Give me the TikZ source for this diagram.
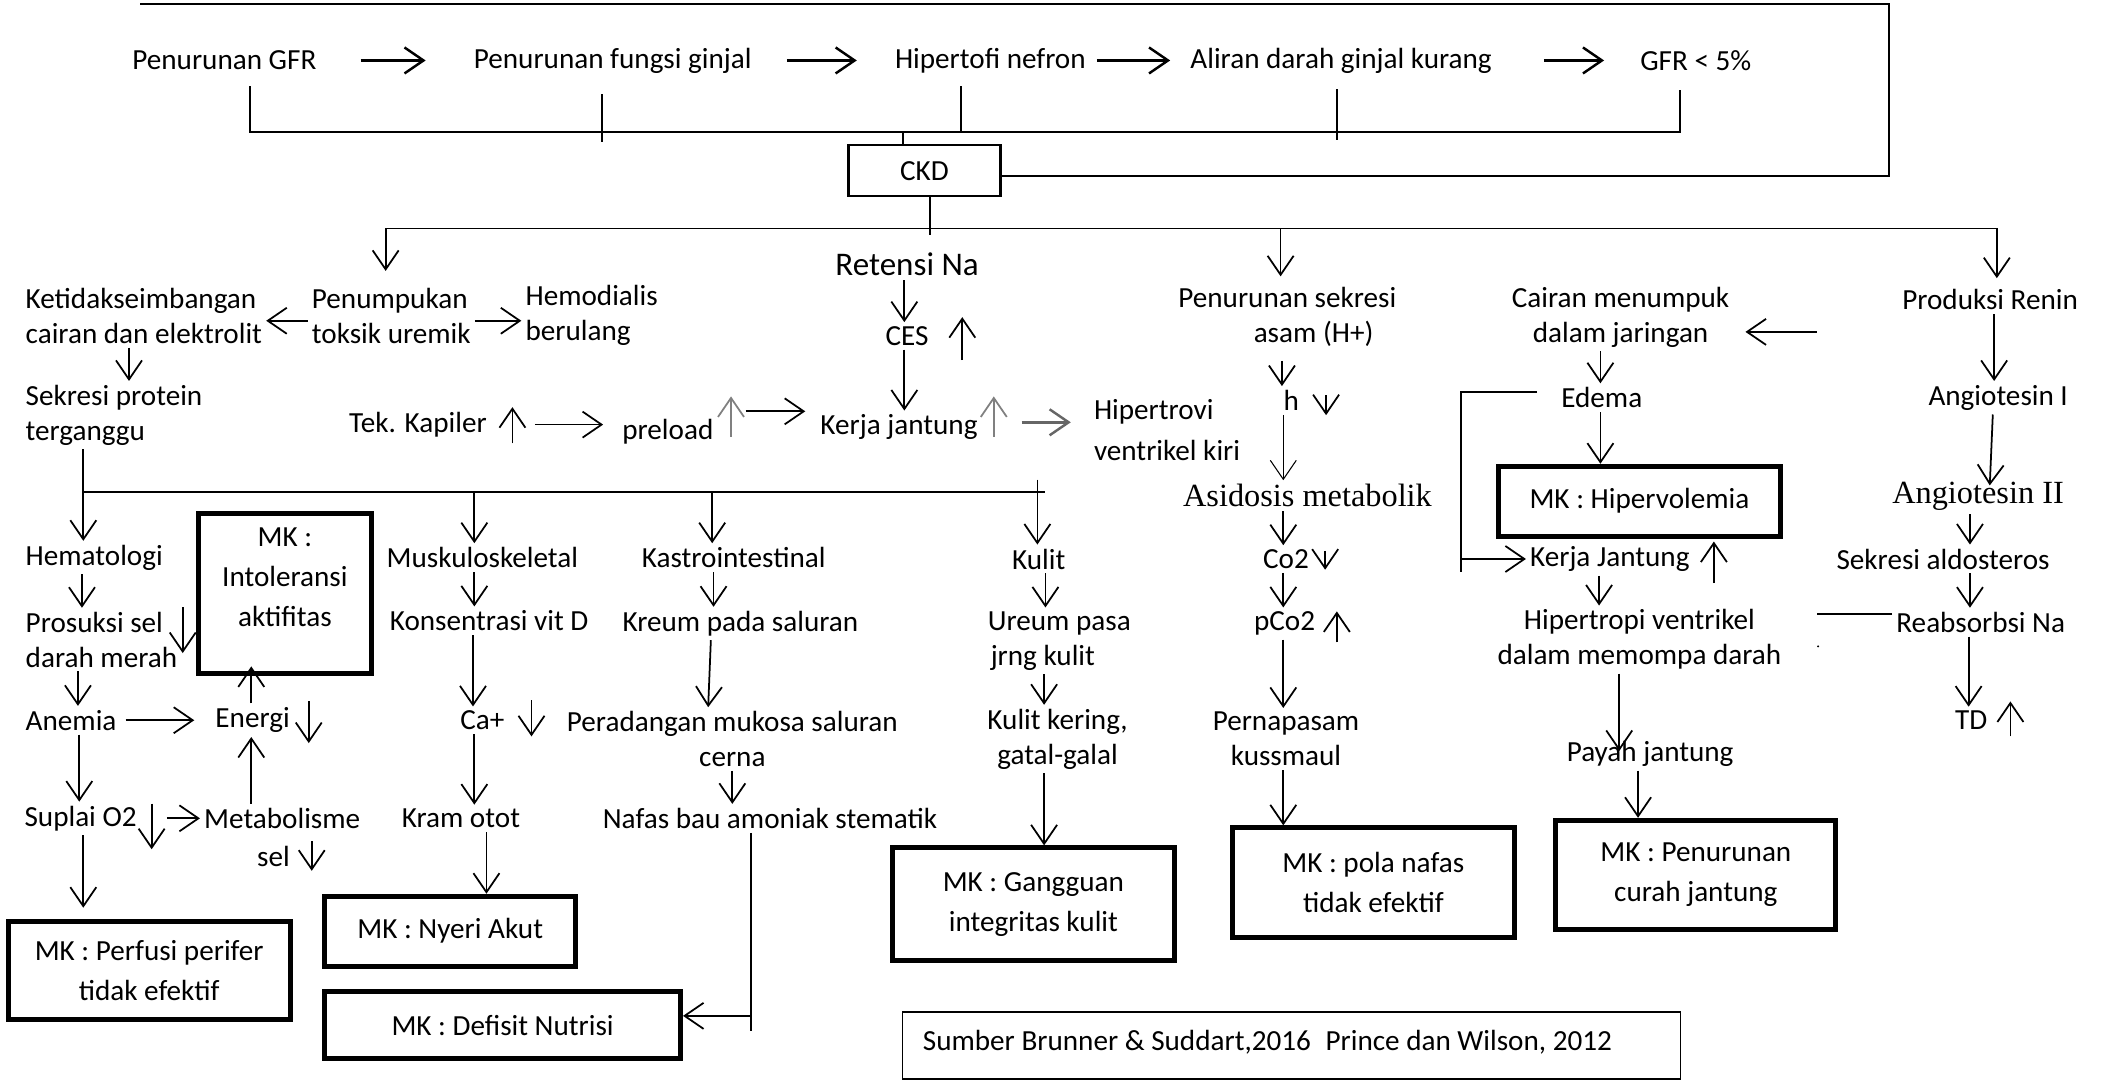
\documentclass[tikz,border=0pt]{standalone}
\usepackage{fontspec}
\setmainfont{Carlito}
\newfontfamily\serifface{Liberation Serif}
\usetikzlibrary{arrows.meta}
\newcommand{\lblfont}{\fontsize{8.3}{9.9}\selectfont}
\newcommand{\boxfont}{\fontsize{8.3}{11.4}\selectfont}
\newcommand{\bigfont}{\serifface\fontsize{9.2}{11}\selectfont}

\begin{document}
\begin{tikzpicture}[x=0.13438mm, y=-0.13438mm,
  lbl/.style={inner sep=1pt, font=\lblfont},
  mkbox/.style={draw, line width=1.4pt, align=center, font=\boxfont, inner sep=0pt},
  arr/.style={-{Straight Barb[length=1.9mm,width=2.6mm]}, line width=0.5pt}]
\useasboundingbox (0,0) rectangle (1568,804);

\node[lbl] (a) at (167,45) {Penurunan GFR};
\node[lbl] (b) at (456,45) {Penurunan fungsi ginjal};
\node[lbl] (c) at (737,45) {Hipertofi nefron};
\node[lbl] (d) at (998,45) {Aliran darah ginjal kurang};
\node[lbl] (e) at (1262,45) {GFR < 5\%};
\node[draw, line width=0.6pt, minimum width=15.2mm, minimum height=5.1mm, font=\lblfont] (ckd) at (688,127) {CKD};

\draw[arr, line width=0.7pt, shorten <=4mm, shorten >=4.4mm] (a) -- (b);
\draw[arr, line width=0.7pt, shorten <=3.1mm, shorten >=3.4mm] (b) -- (c);
\draw[arr, line width=0.7pt, shorten <=0.7mm, shorten >=1.6mm] (c) -- (d);
\draw[arr, line width=0.7pt, shorten <=4.8mm, shorten >=3.2mm] (d) -- (e);
\draw[line width=0.5pt, shorten <=1.2mm, shorten >=1.5mm] (a.south -| 186,0) -- (186,98) -- (1250,98) -- (e.south -| 1250,0);
\draw[line width=0.5pt, shorten <=1.7mm] (b.south -| 448,0) -- (448,106);
\draw[line width=0.5pt, shorten <=0.9mm] (c.south -| 715,0) -- (715,98);
\draw[line width=0.5pt, shorten <=1.2mm] (d.south -| 995,0) -- (995,104);
\draw[line width=0.5pt] (ckd.north -| 672,0) -- (672,98);
\draw[line width=0.6pt] (ckd.east |- 0,131) -| (1406,3) -- (104,3);

\node[lbl, align=left, anchor=west] (ket) at (16,235) {Ketidakseimbangan\\cairan dan elektrolit};
\node[lbl, align=left, anchor=west] (pen) at (229,235) {Penumpukan\\toksik uremik};
\node[lbl, align=left, anchor=west] (hemo) at (388,235) {Hemodialis\\berulang};
\node[lbl, align=left, anchor=west] (sek) at (16,309) {Sekresi protein\\terganggu};
\node[lbl, font=\fontsize{9.4}{11}\selectfont] (ret) at (675,197) {Retensi Na};
\node[lbl] (ces) at (675,250) {CES};
\node[lbl] (tek) at (311,316) {Tek. Kapiler};
\node[lbl] (pre) at (497,321) {preload};
\node[lbl] (kj) at (669,318) {Kerja jantung};
\node[lbl, align=left, anchor=west] (hipv) at (811,320) {Hipertrovi\\[2pt]ventrikel kiri};
\node[lbl, align=center] (asam) at (958,236) {Penurunan sekresi\\\hspace*{1.8em}asam (H+)};
\node[lbl] (ph) at (961,298) {h};
\node[lbl, font=\bigfont] (asid) at (973,369) {Asidosis metabolik};
\node[lbl] (co) at (957,416) {Co2};
\node[lbl] (pco) at (956,464) {pCo2};
\node[lbl, align=center] (pern) at (957,550) {Pernapasam\\kussmaul};
\node[lbl, align=center] (cair) at (1206,236) {Cairan menumpuk\\dalam jaringan};
\node[lbl] (edema) at (1192,296) {Edema};
\node[lbl] (kjj) at (1198,416) {Kerja Jantung};
\node[lbl, align=center] (hipt) at (1220,476) {Hipertropi ventrikel\\dalam memompa darah};
\node[lbl] (payah) at (1228,561) {Payah jantung};
\node[lbl] (renin) at (1481,223) {Produksi Renin};
\node[lbl] (angi) at (1487,296) {Angiotesin I};
\node[lbl, font=\bigfont] (angii) at (1472,369) {Angiotesin II};
\node[lbl] (aldo) at (1446,416) {Sekresi aldosteros};
\node[lbl] (reab) at (1474,463) {Reabsorbsi Na};
\node[lbl] (td) at (1467,536) {TD};

\node[lbl, anchor=west] (hema) at (16,415) {Hematologi};
\node[lbl, align=left, anchor=west] (pros) at (16,476) {Prosuksi sel\\darah merah};
\node[lbl, anchor=west] (anemia) at (16,536) {Anemia};
\node[lbl] (energi) at (188,536) {Energi};
\node[lbl] (supl) at (60,609) {Suplai O2};
\node[lbl, align=center] (metab) at (210,623) {Metabolisme\\[1pt]\hspace*{-0.6em}sel};
\node[lbl] (musk) at (359,415) {Muskuloskeletal};
\node[lbl] (konsen) at (364,462) {Konsentrasi vit D};
\node[lbl] (ca) at (359,536) {Ca+};
\node[lbl] (kram) at (343,609) {Kram otot};
\node[lbl] (kastro) at (546,415) {Kastrointestinal};
\node[lbl] (kreum) at (551,464) {Kreum pada saluran};
\node[lbl, align=center] (perad) at (545,550) {Peradangan mukosa saluran\\cerna};
\node[lbl] (nafas) at (573,609) {Nafas bau amoniak stematik};
\node[lbl] (kulit) at (773,416) {Kulit};
\node[lbl, align=left, anchor=west] (ureum) at (732,477) {Ureum pasa\\\hspace*{0.1em}jrng kulit};
\node[lbl, align=center] (kering) at (787,550) {Kulit kering,\\gatal-galal};

\node[mkbox, minimum width=17.3mm, minimum height=16mm] (mki) at (212,442) {MK :\\Intoleransi\\aktifitas\\[-2pt]};
\node[mkbox, minimum width=28.2mm, minimum height=9.8mm] (mkp) at (111,722) {MK : Perfusi perifer\\tidak efektif};
\node[mkbox, minimum width=25.1mm, minimum height=7mm] (mkn) at (335,693) {MK : Nyeri Akut};
\node[mkbox, minimum width=35.6mm, minimum height=6.7mm] (mkd) at (374,763) {MK : Defisit Nutrisi};
\node[mkbox, minimum width=28.2mm, minimum height=11.3mm] (mkg) at (769,673) {MK : Gangguan\\integritas kulit};
\node[mkbox, minimum width=28.2mm, minimum height=11mm] (mkpn) at (1022,657) {MK : pola nafas\\tidak efektif};
\node[mkbox, minimum width=28.2mm, minimum height=7mm] (mkh) at (1220,373) {MK : Hipervolemia};
\node[mkbox, minimum width=28mm, minimum height=10.9mm] (mkpj) at (1262,651) {MK : Penurunan\\curah jantung};
\node[draw, line width=0.4pt, minimum width=77.8mm, minimum height=6.7mm] (src) at (961,778) {};
\node[lbl, anchor=west] (srct) at ([xshift=1.7mm,yshift=0.3mm]src.west) {Sumber Brunner \& Suddart,2016\hspace{0.5em}Prince dan Wilson, 2012};

\draw[line width=0.5pt] (ckd.south -| 692,0) -- (692,175);
\draw[line width=0.5pt] (287,170) -- (1486,170);
\draw[arr, shorten >=1.3mm] (287,170) -- (pen.north -| 287,0);
\draw[arr, shorten >=0.7mm] (953,170) -- (asam.north -| 953,0);
\draw[arr, shorten >=0.7mm] (1486,170) -- (renin.north -| 1486,0);

\draw[arr] ([yshift=-0.5mm]pen.west) -- ([yshift=-0.5mm]ket.east);
\draw[arr] ([yshift=-0.5mm]pen.east) -- ([yshift=-0.5mm]hemo.west);
\draw[arr] (ket.south -| 96,0) -- (sek.north -| 96,0);
\draw[line width=0.5pt] (62,366) -- (778,366);
\draw[arr] (sek.south -| 62,0) -- (hema.north -| 62,0);
\draw[arr] (353,366) -- (musk.north -| 353,0);
\draw[arr] (530,366) -- (kastro.north -| 530,0);
\draw[arr] (772,357) -- (kulit.north -| 772,0);

\draw[arr] (hema.south -| 61,0) -- (pros.north -| 61,0);
\draw[arr] (pros.east) ++(1,-24) -- ++(0,34);
\draw[arr] (pros.south -| 58,0) -- (anemia.north -| 58,0);
\draw[arr, shorten <=0.5mm, shorten >=1.7mm] (anemia) -- (energi);
\draw[arr] (energi.east) ++(11,-14) -- ++(0,31);
\draw[arr, shorten >=-1mm] (energi.north -| 187,0) -- (mki.south -| 187,0);
\draw[arr] (anemia.south -| 59,0) -- (supl.north -| 59,0);
\draw[arr] (supl.east) ++(8,-11) -- ++(0,34);
\draw[arr, shorten <=2.6mm] (supl.east) -- (supl.east -| metab.west);
\draw[arr] (metab.south) ++(22,-22) -- ++(0,22);
\draw[arr] (metab.north -| 187,0) -- (energi.south -| 187,0);
\draw[arr, shorten >=1.1mm] (supl.south -| 62,0) -- (mkp.north -| 62,0);

\draw[arr] (musk.south -| 353,0) -- (konsen.north -| 353,0);
\draw[arr] (konsen.south -| 352,0) -- (ca.north -| 352,0);
\draw[arr] (ca.east) ++(17,-15) -- ++(0,27);
\draw[arr] (ca.south -| 353,0) -- (kram.north -| 353,0);
\draw[arr] (kram.south -| 362,0) -- (mkn.north -| 362,0);

\draw[arr] (kastro.south -| 531,0) -- (kreum.north -| 531,0);
\draw[arr] (kreum.south -| 529,0) -- (perad.north -| 527,0);
\draw[arr] (perad.south -| 545,0) -- (nafas.north -| 545,0);
\draw[line width=0.5pt] (nafas.south -| 559,0) -- (559,767);
\draw[arr] (559,756) -- (mkd.east |- 0,756);

\draw[arr] (kulit.south -| 778,0) -- (ureum.north -| 778,0);
\draw[arr] (ureum.south -| 777,0) -- (kering.north -| 777,0);
\draw[arr] (kering.south -| 777,0) -- (mkg.north -| 777,0);

\draw[arr] (ret.south -| 673,0) -- (ces.north -| 673,0);
\draw[arr] (ces.east) ++(22,18) -- ++(0,-32);
\draw[arr] (ces.south -| 673,0) -- (kj.north -| 673,0);
\draw[arr] (tek.east) ++(16,14) -- ++(0,-27);
\draw[arr, shorten <=4.4mm, shorten >=1.5mm] (tek) -- (tek -| pre.west);
\draw[arr, gray] (pre.east) ++(10,4) -- ++(0,-30);
\draw[arr, shorten <=2.8mm, shorten >=1.1mm] ([yshift=2mm]pre.east) -- ([yshift=2mm]pre.east -| kj.west);
\draw[arr, gray] (kj.east) ++(9,7) -- ++(0,-30);
\draw[arr, gray!80!black, line width=0.7pt, shorten <=4mm, shorten >=1.9mm] ([yshift=0.5mm]kj.east) -- ([yshift=0.5mm]kj.east -| hipv.west);

\draw[arr, shorten <=1mm] (asam.south -| 954,0) -- (ph.north -| 954,0);
\draw[arr] (ph.east) ++(17,-4) -- ++(0,15);
\draw[arr, line width=0.3pt] (ph.south -| 955,0) -- (asid.north -| 955,0);
\draw[arr] (asid.south -| 955,0) -- (co.north -| 955,0);
\draw[arr] (co.east) ++(9,-6) -- ++(0,14);
\draw[arr] (co.south -| 955,0) -- (pco.north -| 955,0);
\draw[arr] (pco.east) ++(13,14) -- ++(0,-23);
\draw[arr] (pco.south -| 955,0) -- (pern.north -| 955,0);
\draw[arr] (pern.south -| 955,0) -- (mkpn.north -| 955,0);

\coordinate (rf) at (1352,247);
\draw[arr, shorten >=1.2mm] (rf) -- (cair.east |- rf);
\draw[arr] (cair.south -| 1191,0) -- (edema.north -| 1191,0);
\draw[arr] (edema.south -| 1191,0) -- (mkh.north -| 1191,0);
\draw[arr, shorten <=2mm] (edema.west |- 0,292) -- (1087,292) -- (1087,416) -- (kjj.west);
\draw[line width=0.5pt] (1087,416) -- (1087,426);
\draw[arr] (kjj.east) ++(15,18) -- ++(0,-31);
\draw[arr] (kjj.south -| 1190,0) -- (hipt.north -| 1190,0);
\draw[arr, shorten >=-1.4mm] (hipt.south -| 1205,0) -- (payah.north -| 1205,0);
\draw[arr] (payah.south -| 1219,0) -- (mkpj.north -| 1219,0);

\draw[arr] (renin.south -| 1484,0) -- (angi.north -| 1484,0);
\draw[arr, shorten >=-0.8mm] (angi.south -| 1483,0) -- (angii.north -| 1481,0);
\draw[arr] (angii.south -| 1466,0) -- (aldo.north -| 1466,0);
\draw[arr] (aldo.south -| 1466,0) -- (reab.north -| 1466,0);
\draw[arr] (reab.south -| 1465,0) -- (td.north -| 1465,0);
\draw[arr] (td.east) ++(14,12) -- ++(0,-26);
\draw[line width=0.5pt] (reab.west |- 0,457) -- (1352,457);
\fill (1353,481) circle (0.3pt);
\end{tikzpicture}
\end{document}
